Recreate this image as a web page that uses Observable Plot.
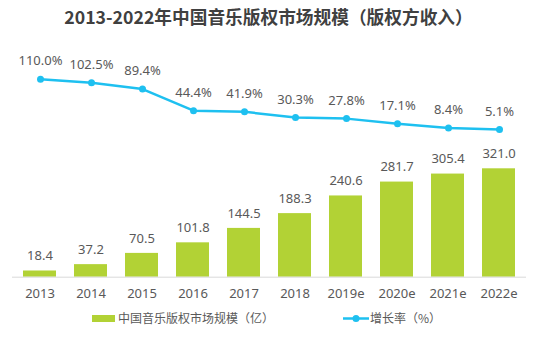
<!DOCTYPE html>
<html><head><meta charset="utf-8">
<script src="https://cdn.jsdelivr.net/npm/d3@7"></script>
<script src="https://cdn.jsdelivr.net/npm/@observablehq/plot@0.6"></script>
<style>
body{margin:0;background:#fff;}
#wrap{position:relative;width:556px;height:337px;font-family:"Noto Sans","Noto Sans CJK SC",sans-serif;overflow:hidden;}
#title{position:absolute;left:0;top:6px;width:537px;text-align:center;font-size:17.7px;line-height:20px;font-weight:bold;color:#404040;font-family:"Noto Sans CJK SC",sans-serif;}
.layer{position:absolute;left:0;top:0;}
.leg{position:absolute;top:310px;height:16px;line-height:16px;font-size:12px;color:#595959;font-family:"Noto Sans CJK SC",sans-serif;white-space:nowrap;}
</style>
</head><body>
<div id="wrap">
  <div id="title">2013-2022年中国音乐版权市场规模（版权方收入）</div>
  <div id="bars" class="layer"></div>
  <div id="line" class="layer"></div>
  <div class="leg" style="left:92px;"><svg width="24" height="16" style="vertical-align:top"><rect x="0" y="5" width="23" height="7" fill="#b2d235"/></svg><span style="margin-left:2px">中国音乐版权市场规模（亿）</span></div>
  <div class="leg" style="left:343px;"><svg width="26" height="16" style="vertical-align:top"><line x1="0" x2="26" y1="8.5" y2="8.5" stroke="#1ec0f0" stroke-width="2.5"/><circle cx="13" cy="8.5" r="3.5" fill="#1ec0f0"/></svg><span style="margin-left:1px">增长率（%）</span></div>
</div>
<script>
const years = ["2013","2014","2015","2016","2017","2018","2019e","2020e","2021e","2022e"];
const market = [18.4,37.2,70.5,101.8,144.5,188.3,240.6,281.7,305.4,321.0];
const growth = [110.0,102.5,89.4,44.4,41.9,30.3,27.8,17.1,8.4,5.1];

const data = years.map((y,i)=>({year:y, market:market[i], growth:growth[i]}));
const W = 556, H = 305;
const font = '"Noto Sans","Noto Sans CJK SC",sans-serif';
const xOpts = {domain: years, paddingInner: 0.36, paddingOuter: 0.18, axis: null};

const bars = Plot.plot({
  width: W, height: H,
  marginLeft: 12, marginRight: 30, marginTop: 168.3, marginBottom: 28.3,
  x: xOpts,
  y: {domain:[0,321], axis:null},
  style:{fontFamily: font, background:"transparent"},
  marks:[
    Plot.barY(data,{x:"year", y:"market", fill:"#b2d235"}),
    Plot.ruleY([0],{stroke:"#d9d9d9", strokeWidth:1}),
    Plot.text(data,{x:"year", y:"market", text:d=>d.market.toFixed(1), dy:-15, fill:"#595959", fontSize:13}),
    Plot.axisX({tickSize:0, tickPadding:12, fontSize:13, color:"#595959", label:null})
  ]
});
document.getElementById("bars").appendChild(bars);

const line = Plot.plot({
  width: W, height: H,
  marginLeft: 12, marginRight: 30, marginTop: 0, marginBottom: 0,
  x: xOpts,
  y: {domain:[0,110], range:[131.45,78.7], axis:null},
  style:{fontFamily: font, background:"transparent"},
  marks:[
    Plot.line(data,{x:"year", y:"growth", stroke:"#1ec0f0", strokeWidth:2.5}),
    Plot.dot(data,{x:"year", y:"growth", fill:"#1ec0f0", r:3.5}),
    Plot.text(data,{x:"year", y:"growth", text:d=>d.growth.toFixed(1)+"%", dy:-18, fill:"#595959", fontSize:13})
  ]
});
document.getElementById("line").appendChild(line);
</script>
</body></html>
